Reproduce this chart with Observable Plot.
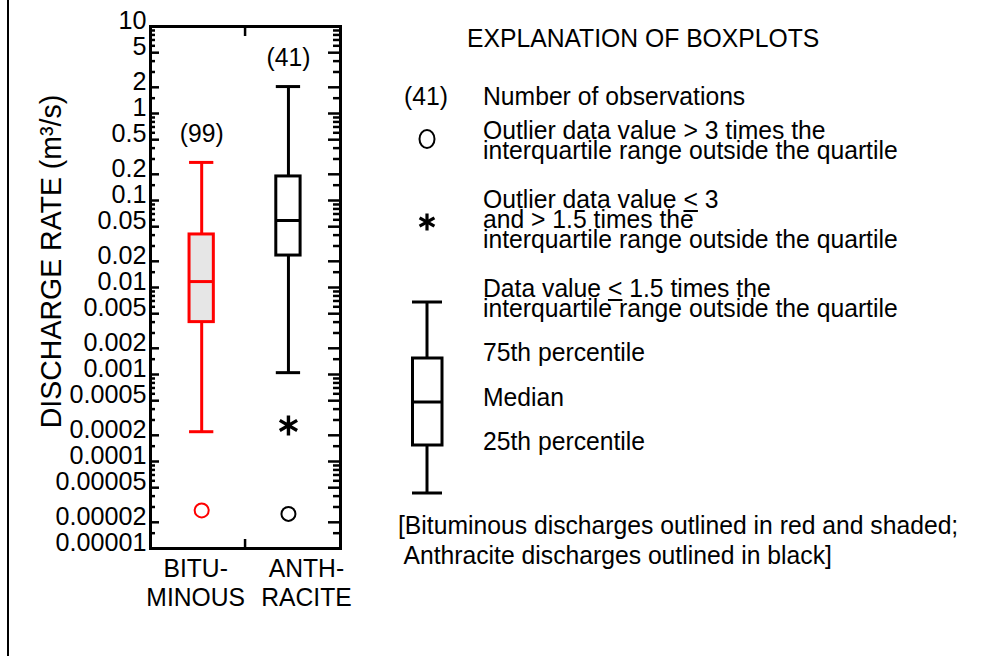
<!DOCTYPE html>
<html><head><meta charset="utf-8">
<script src="https://cdn.jsdelivr.net/npm/d3@7"></script>
<script src="https://cdn.jsdelivr.net/npm/@observablehq/plot@0.6"></script>
<style>
body{margin:0;background:#fff;}
#wrap{position:relative;width:1003px;height:656px;overflow:hidden;font-family:"Liberation Sans",Arial,sans-serif;color:#000;background:#fff;}
#wrap svg.plot{position:absolute;left:0;top:0;}
#border{position:absolute;left:7px;top:0;width:1.5px;height:656px;background:#000;}
.lg{position:absolute;font-size:26px;line-height:20px;white-space:pre;transform:scaleX(0.95);transform-origin:0 0;}
.fn{position:absolute;font-size:26px;line-height:30px;white-space:pre;transform:scaleX(0.95);transform-origin:0 0;}
#legendSvg{position:absolute;left:0;top:0;}
u{text-decoration-thickness:1.5px;text-underline-offset:2px;}
</style></head><body>
<div id="wrap"></div>
<script>
// ---- data ----
const groups = ["BITUMINOUS", "ANTHRACITE"];
const groupLabels = ["BITU-\nMINOUS", "ANTH-\nRACITE"];
const counts = [99, 41];
const whiskerLow = [0.00022, 0.00105];
const quartile1 = [0.0040, 0.0233];
const medians = [0.0117, 0.0589];
const quartile3 = [0.0407, 0.189];
const whiskerHigh = [0.274, 2.04];
const farOutlierGroups = ["BITUMINOUS", "ANTHRACITE"];
const farOutlierValues = [0.0000274, 0.000025];
const nearOutlierGroups = ["ANTHRACITE"];
const nearOutlierValues = [0.00026];
const yTickValues = [10, 5, 2, 1, 0.5, 0.2, 0.1, 0.05, 0.02, 0.01, 0.005, 0.002, 0.001, 0.0005, 0.0002, 0.0001, 0.00005, 0.00002, 0.00001];
const yTickLabels = ["10", "5", "2", "1", "0.5", "0.2", "0.1", "0.05", "0.02", "0.01", "0.005", "0.002", "0.001", "0.0005", "0.0002", "0.0001", "0.00005", "0.00002", "0.00001"];
const minorMultipliers = [1.5, 3, 4, 6, 7, 8, 9];
const decades = [0.00001, 0.0001, 0.001, 0.01, 0.1, 1];
const xSeparator = [0.5];

// ---- build tables ----
const boxes = groups.map((g, i) => ({
  g, i, label: groupLabels[i], n: counts[i],
  lo: whiskerLow[i], q1: quartile1[i], med: medians[i], q3: quartile3[i], hi: whiskerHigh[i]
}));
const far = farOutlierGroups.map((g, k) => ({g, i: groups.indexOf(g), v: farOutlierValues[k]}));
const near = nearOutlierGroups.map((g, k) => ({g, i: groups.indexOf(g), v: nearOutlierValues[k]}));
const minorTicks = decades.flatMap(d => minorMultipliers.map(m => d * m));

// ---- style ----
const W = 1003, H = 656, mL = 150, mR = 663, mT = 26, mB = 108;
const frameW = W - mL - mR, frameH = H - mT - mB;
const half = 0.14;
const strokeOf = g => g === "BITUMINOUS" ? "#ff0000" : "#000000";
const fillOf = g => g === "BITUMINOUS" ? "#e6e6e6" : "#ffffff";
const font = "Liberation Sans, Arial, sans-serif";

const chart = Plot.plot({
  width: W, height: H,
  marginLeft: mL, marginRight: mR, marginTop: mT, marginBottom: mB,
  style: {fontFamily: font, fontSize: "26px", background: "transparent", color: "black"},
  x: {type: "linear", domain: [-0.59, 1.6], axis: null},
  y: {type: "log", domain: [1e-5, 10], axis: null},
  marks: [
    // inward ticks, left
    Plot.tickY(yTickValues, {y: d => d, insetRight: frameW - 9, strokeWidth: 2.5}),
    Plot.tickY(minorTicks, {y: d => d, insetRight: frameW - 5, strokeWidth: 2.5}),
    // inward ticks, right
    Plot.tickY(yTickValues, {y: d => d, insetLeft: frameW - 12, strokeWidth: 2.5}),
    Plot.tickY(minorTicks, {y: d => d, insetLeft: frameW - 7, strokeWidth: 2.5}),
    // separator ticks top/bottom
    Plot.tickX(xSeparator, {x: d => d, insetBottom: frameH - 10, strokeWidth: 2.5}),
    Plot.tickX(xSeparator, {x: d => d, insetTop: frameH - 9, strokeWidth: 2.5}),
    // whiskers
    Plot.ruleX(boxes, {x: "i", y1: "lo", y2: "hi", stroke: d => strokeOf(d.g), strokeWidth: 3}),
    Plot.ruleY(boxes, {y: "lo", x1: d => d.i - half, x2: d => d.i + half, stroke: d => strokeOf(d.g), strokeWidth: 3}),
    Plot.ruleY(boxes, {y: "hi", x1: d => d.i - half, x2: d => d.i + half, stroke: d => strokeOf(d.g), strokeWidth: 3}),
    // boxes
    Plot.rect(boxes, {x1: d => d.i - half, x2: d => d.i + half, y1: "q1", y2: "q3", fill: d => fillOf(d.g), stroke: d => strokeOf(d.g), strokeWidth: 3}),
    Plot.ruleY(boxes, {y: "med", x1: d => d.i - half, x2: d => d.i + half, stroke: d => strokeOf(d.g), strokeWidth: 3}),
    // outliers
    Plot.dot(far, {x: "i", y: "v", r: 7, stroke: d => strokeOf(d.g), strokeWidth: 2, fill: "none"}),
    Plot.dot(near, {x: "i", y: "v", symbol: "asterisk", r: 9.5, stroke: "black", strokeWidth: 3.4}),
    // counts
    Plot.text(boxes, {x: "i", y: "hi", text: d => `(${d.n})`, dy: -29, fontSize: 26}),
    // y tick labels
    Plot.text(yTickValues, {y: d => d, text: (d, k) => yTickLabels[k], frameAnchor: "left", textAnchor: "end", dx: -4, dy: -6, fontSize: 26.5}),
    // x category labels
    Plot.text(boxes.filter(d => d.i === 0), {x: "i", text: "label", frameAnchor: "bottom", textAnchor: "middle", lineAnchor: "top", dy: 8, dx: -6, lineHeight: 1.12, fontSize: 26}),
    Plot.text(boxes.filter(d => d.i === 1), {x: "i", text: "label", frameAnchor: "bottom", textAnchor: "middle", lineAnchor: "top", dy: 8, dx: 18, lineHeight: 1.12, fontSize: 26}),
    // y title
    Plot.text(["DISCHARGE RATE (m³/s)"], {text: d => d, frameAnchor: "left", textAnchor: "middle", lineAnchor: "middle", rotate: -90, dx: -99, dy: -26, fontSize: 30}),
    Plot.frame({stroke: "black", strokeWidth: 3})
  ]
});

// condense the glyphs slightly to match the narrow Helvetica of the original
chart.querySelectorAll("text").forEach(t => {
  const tr = t.getAttribute("transform") || "";
  t.setAttribute("transform", (tr + " scale(0.95,1)").trim());
});

const wrap = document.getElementById("wrap");
wrap.appendChild(chart);
const border = document.createElement("div");
border.id = "border";
wrap.appendChild(border);

// ---- legend (explanation) ----
const legendTexts = [
  {x: 467, y: 27.5, html: "EXPLANATION OF BOXPLOTS"},
  {x: 404, y: 86, html: "(41)"},
  {x: 483, y: 86, html: "Number of observations"},
  {x: 483, y: 119.5, html: "Outlier data value &gt; 3 times the\ninterquartile range outside the quartile"},
  {x: 483, y: 189, html: "Outlier data value <u>&lt;</u> 3\nand &gt; 1.5 times the\ninterquartile range outside the quartile"},
  {x: 483, y: 278, html: "Data value <u>&lt;</u> 1.5 times the\ninterquartile range outside the quartile"},
  {x: 483, y: 342, html: "75th percentile"},
  {x: 483, y: 387, html: "Median"},
  {x: 483, y: 431, html: "25th percentile"}
];
for (const t of legendTexts) {
  const d = document.createElement("div");
  d.className = "lg";
  d.style.left = t.x + "px";
  d.style.top = t.y + "px";
  d.innerHTML = t.html;
  wrap.appendChild(d);
}
const fn = document.createElement("div");
fn.className = "fn";
fn.style.left = "398px";
fn.style.top = "510px";
fn.textContent = "[Bituminous discharges outlined in red and shaded;\n Anthracite discharges outlined in black]";
wrap.appendChild(fn);

const ns = "http://www.w3.org/2000/svg";
const lsvg = document.createElementNS(ns, "svg");
lsvg.setAttribute("id", "legendSvg");
lsvg.setAttribute("width", W);
lsvg.setAttribute("height", H);
lsvg.innerHTML = `
  <g fill="none" stroke="#000">
    <ellipse cx="427" cy="139" rx="7.5" ry="9" stroke-width="2"/>
    <g stroke-width="3.2" transform="translate(427,222)">
      <line x1="0" y1="-8.5" x2="0" y2="8.5"/>
      <line x1="-7.4" y1="-4.2" x2="7.4" y2="4.2"/>
      <line x1="-7.4" y1="4.2" x2="7.4" y2="-4.2"/>
    </g>
    <g stroke-width="3">
      <line x1="427" y1="302" x2="427" y2="493"/>
      <line x1="412" y1="302" x2="442" y2="302"/>
      <line x1="412" y1="493" x2="442" y2="493"/>
      <rect x="412.5" y="358" width="29.5" height="87" fill="#fff"/>
      <line x1="412.5" y1="402" x2="442" y2="402"/>
    </g>
  </g>`;
wrap.appendChild(lsvg);
</script>
</body></html>
